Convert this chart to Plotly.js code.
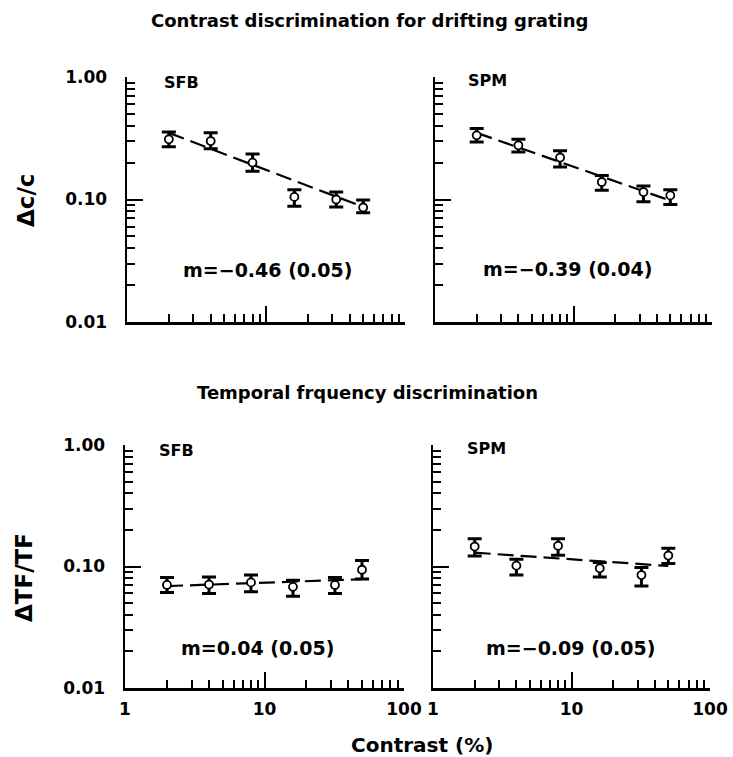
<!DOCTYPE html>
<html>
<head>
<meta charset="utf-8">
<script src="https://cdn.plot.ly/plotly-3.0.1.min.js"></script>
<style>html,body{margin:0;padding:0;background:#fff;}</style>
</head>
<body>
<div id="chart" style="width:733px;height:757px;"></div>
<script>
// ---- data ----
const contrastPct = [2, 4, 8, 16, 32, 50];

// Contrast discrimination (Δc/c)
const cdSFB = [0.31, 0.30, 0.20, 0.105, 0.10, 0.086];
const cdSFBHi = [0.355, 0.35, 0.235, 0.12, 0.115, 0.099];
const cdSFBLo = [0.27, 0.26, 0.17, 0.088, 0.087, 0.078];
const cdSFBFit = [0.35, 0.087];

const cdSPM = [0.334, 0.277, 0.22, 0.139, 0.115, 0.108];
const cdSPMHi = [0.38, 0.31, 0.25, 0.157, 0.129, 0.12];
const cdSPMLo = [0.295, 0.244, 0.184, 0.119, 0.096, 0.091];
const cdSPMFit = [0.35, 0.098];

// Temporal frequency discrimination (ΔTF/TF)
const tfSFB = [0.0705, 0.071, 0.074, 0.068, 0.0705, 0.094];
const tfSFBHi = [0.081, 0.082, 0.085, 0.077, 0.081, 0.112];
const tfSFBLo = [0.061, 0.06, 0.062, 0.057, 0.06, 0.079];
const tfSFBFit = [0.069, 0.0785];

const tfSPM = [0.146, 0.1016, 0.148, 0.0966, 0.085, 0.123];
const tfSPMHi = [0.169, 0.115, 0.169, 0.108, 0.098, 0.141];
const tfSPMLo = [0.122, 0.085, 0.124, 0.082, 0.069, 0.106];
const tfSPMFit = [0.13, 0.101];

const fitX = [2, 50];

const xMajor = [1, 10, 100];
const xMajorText = ['1', '10', '100'];
const xMinor = [2,3,4,5,6,7,8,9,20,30,40,50,60,70,80,90];
const yMajor = [0.01, 0.1, 1];
const yMajorText = ['0.01', '0.10', '1.00'];
const yMinor = [0.02,0.03,0.04,0.05,0.06,0.07,0.08,0.09,0.2,0.3,0.4,0.5,0.6,0.7,0.8,0.9];

const subjects = ['SFB', 'SPM', 'SFB', 'SPM'];
const slopes = ['m=\u22120.46 (0.05)', 'm=\u22120.39 (0.04)', 'm=0.04 (0.05)', 'm=\u22120.09 (0.05)'];
const titleTop = 'Contrast discrimination for drifting grating';
const titleBottom = 'Temporal frquency discrimination';
const yTitleTop = '\u0394c/c';
const yTitleBottom = '\u0394TF/TF';
const xTitle = 'Contrast (%)';

// ---- build ----
const W = 733, H = 757;
const FONT = 'DejaVu Sans';
const panels = [
  {y: cdSFB, hi: cdSFBHi, lo: cdSFBLo, fit: cdSFBFit, xa: 'x', ya: 'y'},
  {y: cdSPM, hi: cdSPMHi, lo: cdSPMLo, fit: cdSPMFit, xa: 'x2', ya: 'y2'},
  {y: tfSFB, hi: tfSFBHi, lo: tfSFBLo, fit: tfSFBFit, xa: 'x3', ya: 'y3'},
  {y: tfSPM, hi: tfSPMHi, lo: tfSPMLo, fit: tfSPMFit, xa: 'x4', ya: 'y4'}
];
const traces = [];
panels.forEach(p => {
  traces.push({
    x: fitX, y: p.fit, xaxis: p.xa, yaxis: p.ya, mode: 'lines', type: 'scatter',
    line: {color: 'black', width: 2.2, dash: '16px,7px'}, hoverinfo: 'skip'
  });
  traces.push({
    x: contrastPct, y: p.y, xaxis: p.xa, yaxis: p.ya, mode: 'markers', type: 'scatter',
    marker: {symbol: 'circle', size: 8, color: 'white', line: {color: 'black', width: 1.8}},
    error_y: {type: 'data', symmetric: false,
      array: p.hi.map((v, i) => v - p.y[i]),
      arrayminus: p.y.map((v, i) => v - p.lo[i]),
      color: 'black', thickness: 3, width: 7}
  });
});

const px = (a, b) => [a / W, b / W];
const py = (top, bot) => [1 - bot / H, 1 - top / H];
const tickFont = {family: FONT, size: 17, color: 'black', weight: 'bold'};

function xax(domain, anchor, labels) {
  return {
    type: 'log', range: [0, 2], domain: domain, anchor: anchor,
    showline: true, linewidth: 2.5, linecolor: 'black', mirror: false,
    showgrid: false, zeroline: false,
    tickmode: 'array', tickvals: xMajor, ticktext: xMajorText,
    ticks: 'inside', ticklen: 16, tickwidth: 2, tickcolor: 'black',
    showticklabels: labels, ticklabelstandoff: 4,
    tickfont: tickFont,
    minor: {tickmode: 'array', tickvals: xMinor, ticks: 'inside', ticklen: 8, tickwidth: 2, tickcolor: 'black', showgrid: false}
  };
}
function yax(domain, anchor, labels) {
  return {
    type: 'log', range: [-2, 0], domain: domain, anchor: anchor,
    showline: true, linewidth: 2.5, linecolor: 'black', mirror: false,
    showgrid: false, zeroline: false,
    tickmode: 'array', tickvals: yMajor, ticktext: yMajorText,
    ticks: 'inside', ticklen: 16, tickwidth: 2, tickcolor: 'black',
    showticklabels: labels, ticklabelstandoff: 14,
    tickfont: tickFont,
    minor: {tickmode: 'array', tickvals: yMinor, ticks: 'inside', ticklen: 8, tickwidth: 2, tickcolor: 'black', showgrid: false}
  };
}

const ann = [];
const f = (size) => ({family: FONT, size: size, color: 'black', weight: 'bold'});
const txt = (text, x, y, opts) => ann.push(Object.assign({
  text: text, x: x / W, y: 1 - y / H, xref: 'paper', yref: 'paper',
  showarrow: false, xanchor: 'center', yanchor: 'middle', font: f(18)
}, opts || {}));

txt(titleTop, 369, 21);
txt(titleBottom, 367, 393);
txt(subjects[0], 162, 82, {xanchor: 'left', font: f(16)});
txt(subjects[1], 466, 81, {xanchor: 'left', font: f(16)});
txt(subjects[2], 157, 450, {xanchor: 'left', font: f(16)});
txt(subjects[3], 465, 448, {xanchor: 'left', font: f(16)});
txt(slopes[0], 267, 270, {font: f(19)});
txt(slopes[1], 567, 269, {font: f(19)});
txt(slopes[2], 257, 648, {font: f(19)});
txt(slopes[3], 570, 648, {font: f(19)});
txt(yTitleTop, 26, 201, {textangle: -90, font: f(23)});
txt(yTitleBottom, 24, 578, {textangle: -90, font: f(23)});
txt(xTitle, 422, 745, {font: f(20)});

const layout = {
  width: W, height: H, margin: {l: 0, r: 0, t: 0, b: 0},
  paper_bgcolor: 'white', plot_bgcolor: 'white', showlegend: false,
  font: {family: FONT, size: 16, color: 'black'},
  xaxis: xax(px(127, 405), 'y', false),
  yaxis: yax(py(77, 322), 'x', true),
  xaxis2: xax(px(435, 712), 'y2', false),
  yaxis2: yax(py(77, 322), 'x2', false),
  xaxis3: xax(px(125, 404), 'y3', true),
  yaxis3: yax(py(445, 688), 'x3', true),
  xaxis4: xax(px(433, 710), 'y4', true),
  yaxis4: yax(py(445, 688), 'x4', false),
  annotations: ann
};

Plotly.newPlot('chart', traces, layout, {displayModeBar: false, staticPlot: true});
</script>
</body>
</html>
